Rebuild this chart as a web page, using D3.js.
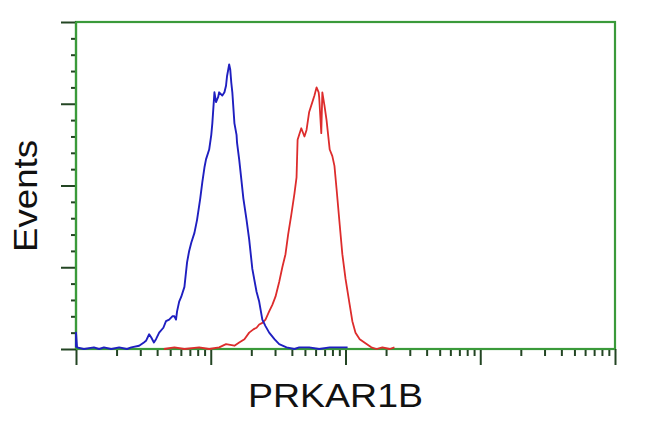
<!DOCTYPE html>
<html>
<head>
<meta charset="utf-8">
<script src="https://cdn.jsdelivr.net/npm/d3@7"></script>
<style>
  html, body { margin: 0; padding: 0; background: #fff; }
  svg { display: block; }
</style>
</head>
<body>
<svg id="chart" width="650" height="432"></svg>
<script>
// Histogram data: log-display channel (0..1024 = 4 decades) and event counts
const blueChannel = [0,0,2,15,34,44,53,67,82,97,105,120,129,133,139,143,148,152,158,166,171,177,183,187,190,192,196,200,206,211,215,219,225,230,236,240,244,247,253,257,259,263,266,270,272,278,282,285,287,291,293,295,297,301,305,306,310,314,318,324,329,335,343,348,354,360,367,377,386,400,415,424,443,462,482,501,516];
const blueCount   = [1,10,1,0,1,0,1,0,1,0,1,2,4,5,9,7,4,6,10,13,17,18,20,20,18,23,29,32,38,53,60,65,71,79,92,102,111,116,122,131,138,157,151,154,157,155,157,161,167,174,171,163,157,138,131,126,116,104,92,79,67,49,35,29,18,14,10,6,3,1,0,1,1,0,1,1,1];

const redChannel = [167,187,206,234,253,272,285,301,310,320,329,337,343,348,354,360,367,373,379,386,392,398,403,409,415,419,421,424,428,434,438,443,449,453,457,461,462,466,468,472,476,482,487,491,495,501,506,512,520,525,531,539,552,561,571,582,596,605];
const redCount   = [0,1,0,1,0,1,3,2,4,6,10,12,13,15,16,18,23,27,32,41,50,58,70,82,95,105,128,131,135,130,134,145,151,155,160,157,154,132,157,149,140,122,118,112,98,76,58,43,27,17,10,6,3,1,0,1,0,1];

const xDomainLog = [1, 10000];      // 4 decades
const channelDomain = [0, 1024];
const yDomain = [0, 200];
const yMajorTicks = [0, 50, 100, 150, 200];
const yMinorStep = 10;

const xLabel = "PRKAR1B";
const yLabel = "Events";

const svg = d3.select("#chart");
const L = 76, R = 615, T = 22, B = 349;

const xLog = d3.scaleLog().domain(xDomainLog).range([L, R]);
const xCh = d3.scaleLinear().domain(channelDomain).range([L, R]);
const y = d3.scaleLinear().domain(yDomain).range([B, T]);

const frameColor = "#3a9a3a";
const tickColor = "#234523";

// Frame
svg.append("rect")
  .attr("x", L).attr("y", T).attr("width", R - L).attr("height", B - T)
  .attr("fill", "none").attr("stroke", frameColor).attr("stroke-width", 2.2);

// X ticks (log decades + minor)
const xMajor = xLog.ticks().filter(v => Math.abs(Math.log10(v) - Math.round(Math.log10(v))) < 1e-9);
const xMinor = xLog.ticks().filter(v => !xMajor.includes(v));
const gx = svg.append("g").attr("transform", `translate(0,${B})`);
gx.call(d3.axisBottom(xLog).tickValues(xMinor).tickSize(7).tickFormat(""));
gx.append("g").call(d3.axisBottom(xLog).tickValues(xMajor).tickSize(16).tickFormat(""));
gx.selectAll(".domain").remove();
gx.selectAll("line").attr("stroke", tickColor).attr("stroke-width", 2);

// Y ticks
const yMinor = d3.range(yDomain[0], yDomain[1] + 1e-9, yMinorStep).filter(v => !yMajorTicks.includes(v));
const gy = svg.append("g").attr("transform", `translate(${L},0)`);
gy.call(d3.axisLeft(y).tickValues(yMinor).tickSize(5).tickFormat(""));
gy.append("g").call(d3.axisLeft(y).tickValues(yMajorTicks).tickSize(15).tickFormat(""));
gy.selectAll(".domain").remove();
gy.selectAll("line").attr("stroke", tickColor).attr("stroke-width", 2);

// Redraw axis lines in green on top of ticks
svg.append("line").attr("x1", L).attr("x2", R).attr("y1", B).attr("y2", B)
  .attr("stroke", frameColor).attr("stroke-width", 2.2);
svg.append("line").attr("x1", L).attr("x2", L).attr("y1", T).attr("y2", B)
  .attr("stroke", frameColor).attr("stroke-width", 2.2);

// Curves
const line = d3.line().x(d => xCh(d[0])).y(d => y(d[1]));
const blue = blueChannel.map((c, i) => [c, blueCount[i]]);
const red = redChannel.map((c, i) => [c, redCount[i]]);

svg.append("path").datum(red).attr("d", line)
  .attr("fill", "none").attr("stroke", "#dd2c2c").attr("stroke-width", 1.8)
  .attr("stroke-linejoin", "round");
svg.append("path").datum(blue).attr("d", line)
  .attr("fill", "none").attr("stroke", "#1f1fc0").attr("stroke-width", 1.9)
  .attr("stroke-linejoin", "round");

// Labels
svg.append("text")
  .attr("x", 335.5).attr("y", 407)
  .attr("text-anchor", "middle")
  .attr("font-family", "Liberation Sans, Arial, sans-serif")
  .attr("font-size", 33)
  .attr("fill", "#111")
  .attr("textLength", 175).attr("lengthAdjust", "spacingAndGlyphs")
  .text(xLabel);

svg.append("text")
  .attr("transform", "translate(37,196) rotate(-90)")
  .attr("text-anchor", "middle")
  .attr("font-family", "Liberation Sans, Arial, sans-serif")
  .attr("font-size", 33)
  .attr("fill", "#111")
  .attr("textLength", 112).attr("lengthAdjust", "spacingAndGlyphs")
  .text(yLabel);
</script>
</body>
</html>
